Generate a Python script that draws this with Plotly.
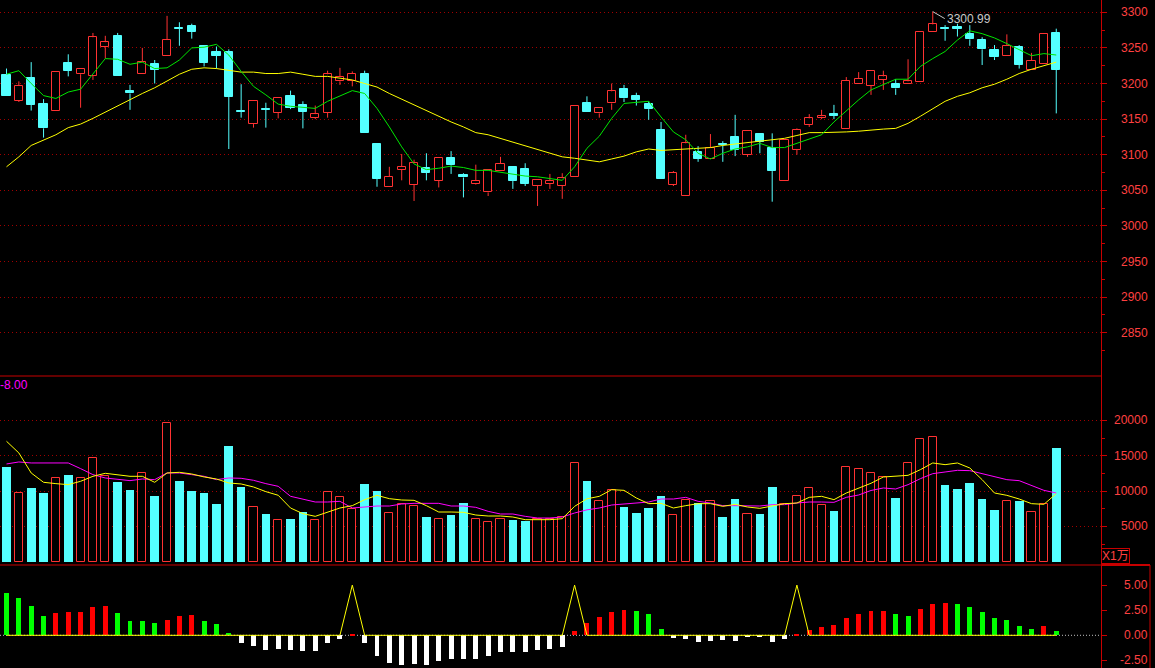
import plotly.graph_objects as go

# ---------------- data ----------------
opens = [3212, 3176, 3208, 3171, 3161, 3229, 3213, 3211, 3251, 3267,
         3189, 3213, 3227, 3238, 3278, 3281, 3253, 3244, 3244, 3162,
         3143, 3164, 3159, 3182, 3170, 3152, 3159, 3203, 3204, 3213,
         3115, 3054, 3079, 3058, 3081, 3063, 3095, 3071, 3059, 3047,
         3077, 3083, 3080, 3056, 3059, 3056, 3068, 3173, 3158, 3172,
         3192, 3182, 3171, 3135, 3058, 3042, 3104, 3094, 3115, 3125,
         3100, 3129, 3110, 3063, 3107, 3142, 3152, 3157, 3136, 3199,
         3197, 3205, 3199, 3199, 3202, 3273, 3278, 3280, 3270, 3261,
         3247, 3238, 3251, 3219, 3228, 3271]
highs = [3221, 3203, 3230, 3178, 3216, 3241, 3221, 3271, 3267, 3271,
         3198, 3250, 3233, 3295, 3286, 3284, 3253, 3252, 3248, 3199,
         3175, 3173, 3179, 3190, 3175, 3169, 3218, 3222, 3217, 3218,
         3115, 3083, 3101, 3093, 3102, 3095, 3105, 3074, 3086, 3078,
         3097, 3083, 3088, 3064, 3073, 3074, 3169, 3182, 3166, 3200,
         3198, 3187, 3175, 3146, 3077, 3128, 3112, 3129, 3119, 3156,
         3133, 3129, 3130, 3120, 3137, 3157, 3163, 3170, 3209, 3216,
         3217, 3218, 3206, 3234, 3273, 3300.99, 3282, 3284, 3282, 3265,
         3254, 3269, 3254, 3243, 3269, 3277]
lows = [3183, 3174, 3162, 3124, 3161, 3210, 3166, 3205, 3235, 3210,
        3163, 3213, 3200, 3238, 3253, 3263, 3224, 3221, 3108, 3152,
        3138, 3138, 3151, 3164, 3137, 3150, 3152, 3198, 3196, 3131,
        3055, 3054, 3064, 3035, 3064, 3054, 3073, 3040, 3058, 3042,
        3077, 3052, 3056, 3028, 3052, 3038, 3068, 3160, 3152, 3163,
        3174, 3169, 3149, 3066, 3056, 3042, 3090, 3094, 3090, 3098,
        3097, 3102, 3034, 3063, 3100, 3139, 3150, 3150, 3136, 3199,
        3184, 3191, 3184, 3199, 3202, 3273, 3260, 3266, 3253, 3226,
        3233, 3238, 3221, 3219, 3228, 3158]
closes = [3183, 3197, 3170, 3137, 3216, 3218, 3221, 3265, 3258, 3210,
          3186, 3230, 3219, 3261, 3277, 3273, 3229, 3239, 3181, 3160,
          3175, 3163, 3179, 3166, 3160, 3157, 3213, 3209, 3214, 3131,
          3066, 3069, 3083, 3089, 3075, 3095, 3085, 3068, 3063, 3078,
          3087, 3063, 3059, 3064, 3063, 3067, 3169, 3160, 3166, 3189,
          3179, 3177, 3164, 3066, 3075, 3116, 3094, 3110, 3113, 3107,
          3133, 3118, 3077, 3120, 3135, 3151, 3154, 3155, 3204, 3207,
          3217, 3210, 3193, 3203, 3273, 3283, 3277, 3277, 3262, 3248,
          3237, 3253, 3226, 3232, 3269, 3219]
ma_short = [3213, 3218, 3200, 3183, 3179, 3188, 3192, 3213, 3235, 3234,
            3227, 3230, 3221, 3222, 3233, 3250, 3251, 3255, 3240, 3217,
            3196, 3184, 3171, 3168, 3167, 3165, 3175, 3182, 3190, 3186,
            3165, 3139, 3111, 3087, 3079, 3081, 3084, 3082, 3078, 3078,
            3075, 3072, 3070, 3069, 3067, 3064, 3083, 3109, 3126, 3151,
            3172, 3174, 3175, 3153, 3132, 3121, 3102, 3094, 3102, 3108,
            3111, 3116, 3110, 3110, 3116, 3121, 3128, 3146, 3162, 3177,
            3191, 3199, 3206, 3206, 3224, 3235, 3245, 3261, 3274, 3270,
            3264, 3256, 3248, 3239, 3242, 3240]
ma_long = [3083, 3097, 3113, 3121, 3128, 3138, 3143, 3151, 3160, 3168,
           3177, 3186, 3194, 3204, 3213, 3220, 3222, 3221, 3219, 3216,
           3216, 3214, 3214, 3216, 3213, 3210, 3210, 3208, 3205, 3200,
           3195, 3186, 3178, 3170, 3161, 3153, 3146, 3139, 3131, 3128,
           3123, 3118, 3113, 3108, 3102, 3097, 3095, 3092, 3090, 3094,
           3098, 3104, 3108, 3106, 3107, 3108, 3109, 3110, 3113, 3115,
           3117, 3119, 3121, 3123, 3127, 3131, 3131, 3131, 3132, 3133,
           3135, 3136, 3137, 3144, 3154, 3165, 3175, 3182, 3187, 3194,
           3199, 3206, 3214, 3220, 3225, 3230]
volumes = [13455, 9726, 10481, 9773, 11850, 12322, 11850, 14682, 12180, 11331,
           10198, 12558, 9348, 19638, 11472, 10056, 9773, 8216, 16428, 10622,
           7791, 6800, 5903, 6090, 7030, 5947, 9864, 9157, 7457, 11045,
           10053, 6891, 8165, 7882, 6372, 6041, 6655, 8354, 6041, 5617,
           6041, 5947, 5805, 6041, 6041, 6325, 13971, 11469, 8590, 10195,
           7788, 6938, 7646, 9346, 6608, 8779, 8354, 8590, 6372, 8921,
           6750, 6797, 10620, 8165, 9298, 10431, 8024, 7221, 13404, 13121,
           12555, 11988, 9062, 13971, 17370, 17653, 10903, 10337, 11186, 8921,
           7363, 8590, 8637, 7033, 8165, 16142]
vol_ma5 = [17042, 15390, 12558, 11236, 11048, 10906, 11378, 12086, 12511, 12322,
           12086, 12086, 11236, 12558, 12652, 12416, 11992, 11708, 11142, 11000,
           10576, 9915, 9400, 7600, 6797, 6419, 6986, 7599, 7929, 8779,
           9393, 8921, 8732, 8685, 7929, 7033, 7033, 6986, 6608, 6466,
           6466, 6325, 5947, 5947, 5947, 6089, 7835, 8900, 9251, 10195,
           10101, 9015, 8212, 8260, 7599, 7929, 8212, 8212, 7835, 8118,
           7740, 7552, 7929, 8212, 8307, 9109, 9251, 8779, 9723, 10384,
           11100, 11988, 12082, 12224, 13027, 13971, 13735, 13971, 13263, 11611,
           9723, 9393, 8874, 8212, 8118, 9629]
vol_ma10 = [13832, 14116, 13974, 13974, 13974, 13974, 13172, 12322, 11850, 11708,
            11472, 11708, 11614, 12558, 12558, 12322, 12086, 11614, 11850, 11803,
            11520, 11048, 10670, 9254, 8874, 8449, 8449, 8543, 7599, 7740,
            7882, 7882, 8165, 8260, 8260, 8260, 7882, 7882, 7693, 7127,
            6750, 6750, 6419, 6183, 6183, 6325, 6891, 7340, 7599, 8024,
            8165, 8307, 8449, 8874, 8874, 9109, 8543, 8307, 7929, 7929,
            7882, 7882, 8071, 8071, 8307, 8449, 8449, 8401, 9109, 9440,
            10080, 10431, 10290, 10903, 11752, 12460, 12696, 12932, 12885, 12460,
            11941, 11611, 11469, 10809, 10101, 9723]
osc = [4.23, 3.73, 2.93, 1.93, 2.23, 2.33, 2.36, 2.83, 2.93, 2.23,
       1.43, 1.41, 1.23, 1.53, 1.93, 2.03, 1.43, 1.13, 0.23, -0.77,
       -1.07, -1.47, -1.37, -1.47, -1.57, -1.57, -0.77, -0.37, 0.13, -0.77,
       -2.07, -2.77, -2.97, -2.87, -2.97, -2.57, -2.37, -2.37, -2.37, -2.07,
       -1.67, -1.67, -1.67, -1.47, -1.37, -1.17, 0.43, 1.23, 1.83, 2.33,
       2.53, 2.43, 2.13, 0.63, -0.23, -0.37, -0.63, -0.57, -0.43, -0.57,
       -0.17, -0.13, -0.67, -0.37, 0.13, 0.53, 0.83, 1.03, 1.73, 2.13,
       2.43, 2.45, 2.13, 1.93, 2.63, 3.13, 3.23, 3.13, 2.83, 2.33,
       1.73, 1.53, 0.93, 0.63, 0.93, 0.43]
signal = [0, 0, 0, 0, 0, 0, 0, 0, 0, 0,
          0, 0, 0, 0, 0, 0, 0, 0, 0, 0,
          0, 0, 0, 0, 0, 0, 0, 0, 5.0, 0,
          0, 0, 0, 0, 0, 0, 0, 0, 0, 0,
          0, 0, 0, 0, 0, 0, 5.0, 0, 0, 0,
          0, 0, 0, 0, 0, 0, 0, 0, 0, 0,
          0, 0, 0, 0, 5.0, 0, 0, 0, 0, 0,
          0, 0, 0, 0, 0, 0, 0, 0, 0, 0,
          0, 0, 0, 0, 0, 0]
price_ticks = [3300, 3250, 3200, 3150, 3100, 3050, 3000, 2950, 2900, 2850]
price_minor = [3275, 3225, 3175, 3125, 3075, 3025, 2975, 2925, 2875, 2825]
vol_ticks = [20000, 15000, 10000, 5000]
vol_minor = [17500, 12500, 7500, 2500]
osc_ticks = [5.0, 2.5, 0.0, -2.5]
high_label = "3300.99"
high_index = 75
vol_unit = "X1万"
corner_label = "-8.00"

# ---------------- style ----------------
W, H = 1155, 668
PW = 1101
RED = "#ff3232"
CYAN = "#54ffff"
GREEN = "#00e600"
YELLOW = "#ffff00"
MAGENTA = "#ff00ff"
AXIS = "#c80000"
GRID = "#a00000"
LABEL = "#ff4040"
FONT = "Liberation Sans, Arial, sans-serif"


def xp(px):
    return px / PW


def yp(py):
    return 1 - py / H


n = len(closes)
idx = list(range(n))
up = [i for i in idx if closes[i] >= opens[i]]
dn = [i for i in idx if closes[i] < opens[i]]

fig = go.Figure()

# wicks
for group, col in ((up, RED), (dn, CYAN)):
    wx, wy = [], []
    for i in group:
        top = max(opens[i], closes[i])
        bot = min(opens[i], closes[i])
        wx += [i, i, None, i, i, None]
        wy += [highs[i], top, None, bot, lows[i], None]
    fig.add_trace(go.Scatter(x=wx, y=wy, mode="lines", line=dict(color=col, width=1),
                             xaxis="x", yaxis="y", hoverinfo="skip"))

# bodies
fig.add_trace(go.Bar(x=up, y=[closes[i] - opens[i] for i in up], base=[opens[i] for i in up],
                     width=0.66, marker=dict(color="#000000", line=dict(color=RED, width=1)),
                     xaxis="x", yaxis="y"))
fig.add_trace(go.Bar(x=dn, y=[opens[i] - closes[i] for i in dn], base=[closes[i] for i in dn],
                     width=0.66, marker=dict(color=CYAN, line=dict(color=CYAN, width=1)),
                     xaxis="x", yaxis="y"))
fig.add_trace(go.Scatter(x=idx, y=ma_long, mode="lines", line=dict(color=YELLOW, width=1),
                         xaxis="x", yaxis="y"))
fig.add_trace(go.Scatter(x=idx, y=ma_short, mode="lines", line=dict(color=GREEN, width=1),
                         xaxis="x", yaxis="y"))

# volume
fig.add_trace(go.Bar(x=up, y=[volumes[i] for i in up], width=0.66,
                     marker=dict(color="#000000", line=dict(color=RED, width=1)),
                     xaxis="x2", yaxis="y2"))
fig.add_trace(go.Bar(x=dn, y=[volumes[i] for i in dn], width=0.70,
                     marker=dict(color=CYAN, line=dict(width=0)),
                     xaxis="x2", yaxis="y2"))
fig.add_trace(go.Scatter(x=idx, y=vol_ma10, mode="lines", line=dict(color=MAGENTA, width=1),
                         xaxis="x2", yaxis="y2"))
fig.add_trace(go.Scatter(x=idx, y=vol_ma5, mode="lines", line=dict(color=YELLOW, width=1),
                         xaxis="x2", yaxis="y2"))

# oscillator
osc_colors = []
for i, v in enumerate(osc):
    if v < 0:
        osc_colors.append("#ffffff")
    elif i > 0 and v >= osc[i - 1]:
        osc_colors.append("#ff0000")
    else:
        osc_colors.append("#00ff00")
fig.add_trace(go.Bar(x=idx, y=osc, width=0.4, marker=dict(color=osc_colors, line=dict(width=0)),
                     xaxis="x3", yaxis="y3"))
fig.add_trace(go.Scatter(x=idx, y=signal, mode="lines", line=dict(color=YELLOW, width=1),
                         xaxis="x3", yaxis="y3"))

# ---------------- layout ----------------
x_rng = [-6.5 / 12.35, (PW - 6.5) / 12.35]
d_price = [yp(376), 1]
d_vol = [yp(565), yp(376)]
d_osc = [0, yp(565)]


def xax(anchor):
    return dict(range=x_rng, visible=False, anchor=anchor, fixedrange=True, domain=[0, 1])


def yax(domain, rng, ticks, minor, anchor, grid=True):
    d = dict(domain=domain, range=rng, side="right", anchor=anchor, tickvals=ticks,
             showticklabels=False, ticks="outside", ticklen=5, tickwidth=1, tickcolor=AXIS,
             showline=True, linecolor=AXIS, linewidth=1, showgrid=grid, gridcolor=GRID,
             griddash="1px,3px", gridwidth=1, zeroline=False, fixedrange=True)
    if minor:
        d["minor"] = dict(tickvals=minor, ticks="outside", ticklen=3, tickcolor=AXIS,
                          tickwidth=1, showgrid=False)
    return d


p_per_px = 50 / 35.6
price_rng = [3300 - (376 - 12.3) * p_per_px, 3300 + 12.3 * p_per_px]
v_per_px = 5000 / 35.33
vol_rng = [(561.7 - 565) * v_per_px, (561.7 - 376) * v_per_px]
o_per_px = 2.5 / 25.1
osc_rng = [-(668 - 635.3) * o_per_px, (635.3 - 565) * o_per_px]

annotations = []
for v in price_ticks:
    annotations.append(dict(x=xp(1150), xref="paper", y=v, yref="y", text=str(v),
                            xanchor="right", yanchor="middle", showarrow=False,
                            font=dict(family=FONT, size=12, color=LABEL)))
for v in vol_ticks:
    annotations.append(dict(x=xp(1150), xref="paper", y=v, yref="y2", text=str(v),
                            xanchor="right", yanchor="middle", showarrow=False,
                            font=dict(family=FONT, size=12, color=LABEL)))
for v in osc_ticks:
    annotations.append(dict(x=xp(1150), xref="paper", y=v, yref="y3", text=f"{v:.2f}",
                            xanchor="right", yanchor="middle", showarrow=False,
                            font=dict(family=FONT, size=12, color=LABEL)))
annotations.append(dict(x=high_index, xref="x", y=highs[high_index], yref="y", text=high_label,
                        showarrow=True, ax=12, ay=7, xanchor="left", yanchor="middle",
                        arrowhead=0, arrowwidth=1, arrowcolor="#c8c8c8", standoff=0,
                        font=dict(family=FONT, size=12, color="#c8c8c8")))
annotations.append(dict(x=xp(-2.5), xref="paper", y=yp(385), yref="paper", text=corner_label,
                        xanchor="left", yanchor="middle", showarrow=False,
                        font=dict(family=FONT, size=12, color=MAGENTA)))
annotations.append(dict(x=xp(1101), xref="paper", y=yp(563.5), yref="paper", text=vol_unit,
                        xanchor="left", yanchor="bottom", showarrow=False,
                        bordercolor=AXIS, borderwidth=1, borderpad=0,
                        font=dict(family="Liberation Sans, Noto Sans CJK SC, sans-serif",
                                  size=12, color=LABEL)))

shapes = [
    dict(type="line", xref="paper", yref="paper", x0=0, x1=1, y0=yp(376), y1=yp(376),
         line=dict(color=AXIS, width=1)),
    dict(type="line", xref="paper", yref="paper", x0=0, x1=1, y0=yp(565), y1=yp(565),
         line=dict(color=AXIS, width=1)),
    dict(type="line", xref="paper", yref="paper", x0=1, x1=xp(1150), y0=yp(565), y1=yp(565),
         line=dict(color=AXIS, width=2)),
    dict(type="line", xref="paper", yref="paper", x0=xp(1150), x1=xp(1150), y0=yp(565), y1=0,
         line=dict(color=AXIS, width=1)),
    dict(type="line", xref="paper", yref="y3", x0=0, x1=1, y0=0, y1=0, layer="below",
         line=dict(color="#c0c0c0", width=1, dash="1px,2px")),
]

fig.update_layout(
    width=W, height=H,
    margin=dict(l=0, r=W - PW, t=0, b=0),
    paper_bgcolor="#000000", plot_bgcolor="#000000",
    showlegend=False, barmode="overlay", bargap=0,
    xaxis=xax("y"), xaxis2=xax("y2"), xaxis3=xax("y3"),
    yaxis=yax(d_price, price_rng, price_ticks, price_minor, "x"),
    yaxis2=yax(d_vol, vol_rng, vol_ticks, vol_minor, "x2"),
    yaxis3=yax(d_osc, osc_rng, osc_ticks, None, "x3", grid=False),
    annotations=annotations, shapes=shapes,
    hovermode=False,
)

fig.write_html("out.html")
